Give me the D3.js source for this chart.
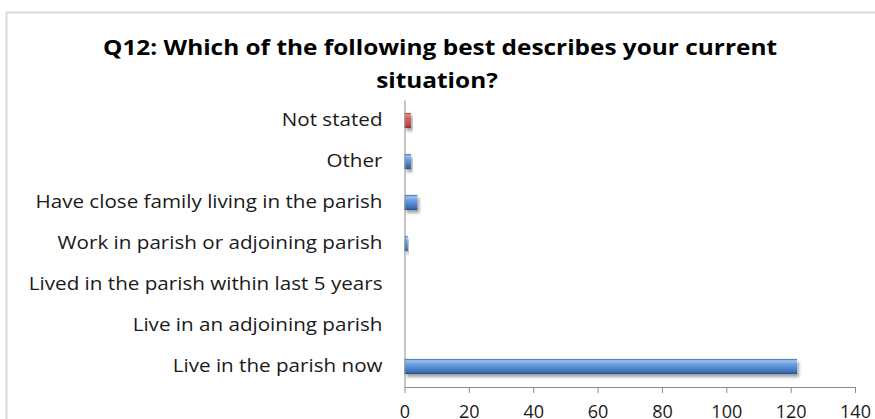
<!DOCTYPE html>
<html><head><meta charset="utf-8">
<script src="https://cdn.jsdelivr.net/npm/d3@7"></script>
<style>html,body{margin:0;padding:0;background:#fff;overflow:hidden}</style>
</head><body><svg id="c" width="875" height="419"></svg>
<script>
const categories = ["Not stated","Other","Have close family living in the parish","Work in parish or adjoining parish","Lived in the parish within last 5 years","Live in an adjoining parish","Live in the parish now"];
const values = [2, 2, 4, 1, 0, 0, 122];
const barColors = ["red","blue","blue","blue","blue","blue","blue"];
const xTicks = [0,20,40,60,80,100,120,140];
const titleLines = ["Q12: Which of the following best describes your current","situation?"];

const svg = d3.select("#c");
const font = "'Open Sans', sans-serif";
const defs = svg.append("defs");
function grad(id, stops){
  const g = defs.append("linearGradient").attr("id",id).attr("x1",0).attr("y1",0).attr("x2",0).attr("y2",1);
  stops.forEach(s=>g.append("stop").attr("offset",s[0]).attr("stop-color",s[1]));
}
grad("gblue",[[0,"#3566a8"],[0.12,"#9cc3f2"],[0.35,"#6a9fe0"],[0.7,"#4a7fc4"],[0.9,"#3466a8"],[1,"#24497f"]]);
grad("gred",[[0,"#a83a36"],[0.12,"#eb8c88"],[0.35,"#d9625d"],[0.7,"#c0504d"],[0.9,"#a53e3a"],[1,"#7f2a27"]]);
const f = defs.append("filter").attr("id","sh").attr("x","-20%").attr("y","-50%").attr("width","150%").attr("height","250%");
f.append("feDropShadow").attr("dx",2).attr("dy",3).attr("stdDeviation",1.8).attr("flood-color","#000").attr("flood-opacity",0.35);

// chart border
svg.append("rect").attr("x",6.5).attr("y",12.5).attr("width",900).attr("height",450)
  .attr("fill","none").attr("stroke","#d9d9d9").attr("stroke-width",2);

// title (glyphs stretched horizontally to match the reference's wide rendering)
const title = svg.append("text").attr("font-family",font).attr("font-weight","bold").attr("font-size",22).attr("fill","#000").attr("text-anchor","middle");
title.append("tspan").attr("x",440).attr("y",55).text(titleLines[0]);
title.append("tspan").attr("x",437).attr("y",88).text(titleLines[1]);
const t0 = title.select("tspan").node();
const tScale = 674 / t0.getComputedTextLength();
title.selectAll("tspan").each(function(){
  d3.select(this).attr("textLength", this.getComputedTextLength()*tScale).attr("lengthAdjust","spacingAndGlyphs");
});

const x = d3.scaleLinear().domain([0,140]).range([404.5,855]);
const y = d3.scaleBand().domain(categories).range([100,387]).paddingInner(0.63).paddingOuter(0.315);

// bars
svg.append("g").selectAll("rect").data(categories).join("rect")
  .attr("x",x(0)).attr("y",d=>y(d)).attr("height",y.bandwidth())
  .attr("width",(d,i)=>x(values[i])-x(0))
  .attr("fill",(d,i)=>barColors[i]==="red"?"url(#gred)":"url(#gblue)")
  .attr("filter","url(#sh)")
  .style("display",(d,i)=>values[i]>0?null:"none");

// y axis
const ya = svg.append("g").attr("transform",`translate(${x(0)},0)`)
  .call(d3.axisLeft(y).tickSize(0).tickPadding(22));
ya.select(".domain").attr("stroke","#8c8c8c");
ya.selectAll("text").attr("font-family",font).attr("font-size",18.5).attr("fill","#1a1a1a");
const longest = ya.selectAll("text").nodes().find(n=>n.textContent===categories[2]);
const lScale = 347 / longest.getComputedTextLength();
ya.selectAll("text").each(function(){
  d3.select(this).attr("textLength", this.getComputedTextLength()*lScale).attr("lengthAdjust","spacingAndGlyphs");
});

// x axis
const xa = svg.append("g").attr("transform",`translate(0,387)`)
  .call(d3.axisBottom(x).tickValues(xTicks).tickSize(6).tickSizeOuter(0).tickPadding(12).tickFormat(d3.format("d")));
xa.select(".domain").attr("stroke","#8c8c8c");
xa.selectAll("line").attr("stroke","#8c8c8c");
xa.selectAll("text").attr("font-family",font).attr("font-size",18).attr("fill","#1a1a1a");
</script></body></html>
